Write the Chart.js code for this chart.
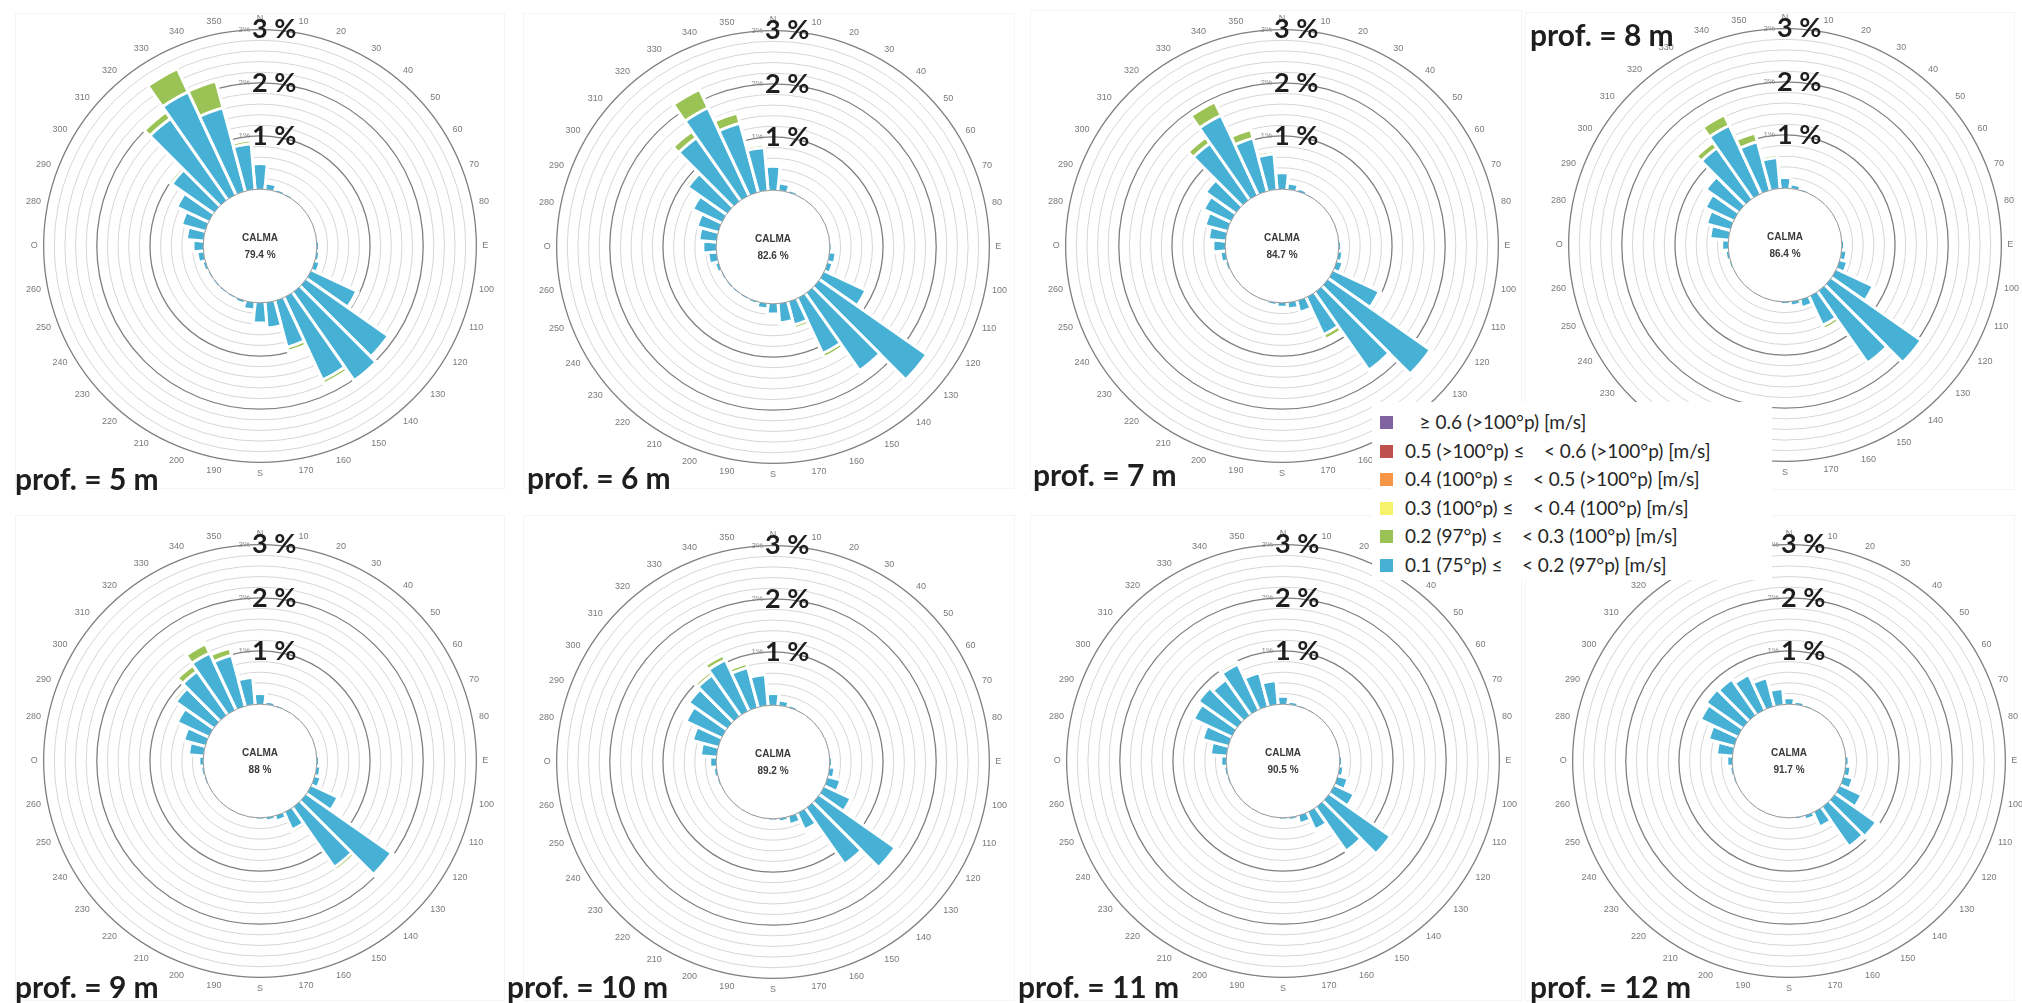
<!DOCTYPE html>
<html>
<head>
<meta charset="utf-8">
<script src="https://cdn.jsdelivr.net/npm/chart.js@4"></script>
<style>
  body { margin:0; background:#fff; width:2022px; height:1003px; overflow:hidden; position:relative; font-family: Lato, sans-serif; }
  .frame { position:absolute; border:1px solid #f5f5f5; box-sizing:border-box; }
  canvas { position:absolute; }
  .prof { position:absolute; font-weight:bold; font-size:30px; font-family:Lato, sans-serif; color:#1e1e1e; white-space:nowrap; line-height:30px; z-index:3; }
  #legend { position:absolute; left:1372px; top:402px; width:400px; height:178px; background:#fff; z-index:5; padding-top:6px; box-sizing:border-box; }
  .lg-row { height:28.6px; line-height:28.6px; position:relative; font-size:19px; font-family:Lato, sans-serif; color:#262626; white-space:pre; }
  .lg-box { position:absolute; left:8px; top:8px; width:13px; height:13px; }
  .lg-text { position:absolute; left:33px; top:0; }
</style>
</head>
<body>
<div id="legend"></div>
<script>
// direction labels, every 10 degrees starting at north
const dirLabels = ['N','10','20','30','40','50','60','70','80','E','100','110','120','130','140','150','160','170',
  'S','190','200','210','220','230','240','250','260','O','280','290','300','310','320','330','340','350'];

const depthNames = ['prof. = 5 m','prof. = 6 m','prof. = 7 m','prof. = 8 m','prof. = 9 m','prof. = 10 m','prof. = 11 m','prof. = 12 m'];
const calmPct = ['79.4','82.6','84.7','86.4','88','89.2','90.5','91.7'];
const ringTicks = [1, 2, 3];

// legend classes (top to bottom)
const classNames = [
  '   \u2265 0.6 (>100\u00b0p) [m/s]',
  '0.5 (>100\u00b0p) \u2264    < 0.6 (>100\u00b0p) [m/s]',
  '0.4 (100\u00b0p) \u2264    < 0.5 (>100\u00b0p) [m/s]',
  '0.3 (100\u00b0p) \u2264    < 0.4 (100\u00b0p) [m/s]',
  '0.2 (97\u00b0p) \u2264    < 0.3 (100\u00b0p) [m/s]',
  '0.1 (75\u00b0p) \u2264    < 0.2 (97\u00b0p) [m/s]'
];
const classColors = ['#8064a2','#c0504d','#f79646','#f6f36a','#9bc254','#47b1d5'];

// frequency (%) per direction, class 0.1-0.2 (blue)
const blue5  = [0.48,0.12,0.05,0.04,0.03,0.03,0.03,0.03,0.03,0.05,0.06,0.10,0.94,1.88,2.02,1.71,0.90,0.48,0.38,0.14,0.06,0.04,0.04,0.04,0.04,0.06,0.12,0.19,0.32,0.46,0.66,0.96,1.86,2.13,1.62,0.86];
const blue6  = [0.45,0.14,0.05,0.03,0.03,0.03,0.03,0.03,0.03,0.04,0.12,0.10,0.86,2.46,1.77,1.14,0.45,0.36,0.19,0.10,0.05,0.04,0.04,0.04,0.04,0.07,0.16,0.25,0.33,0.41,0.60,0.89,1.44,1.82,1.34,0.81];
const blue7  = [0.31,0.12,0.06,0.03,0.03,0.03,0.03,0.03,0.03,0.05,0.08,0.12,0.95,2.34,1.78,0.77,0.22,0.12,0.08,0.05,0.03,0.03,0.03,0.03,0.03,0.05,0.10,0.23,0.32,0.43,0.56,0.69,1.29,1.64,1.03,0.67];
const blue8  = [0.20,0.08,0.04,0.03,0.03,0.03,0.03,0.03,0.03,0.05,0.10,0.15,0.76,2.06,1.64,0.60,0.15,0.08,0.05,0.03,0.03,0.03,0.03,0.03,0.03,0.04,0.06,0.12,0.35,0.46,0.59,0.75,1.16,1.41,0.94,0.58];
const blue9  = [0.20,0.06,0.04,0.03,0.03,0.03,0.03,0.03,0.03,0.05,0.08,0.12,0.55,1.95,1.37,0.36,0.10,0.06,0.04,0.03,0.03,0.03,0.03,0.03,0.03,0.04,0.05,0.08,0.28,0.42,0.65,0.87,0.99,1.17,0.99,0.51];
const blue10 = [0.22,0.10,0.05,0.03,0.03,0.03,0.03,0.03,0.03,0.05,0.10,0.25,0.55,1.74,1.28,0.34,0.15,0.06,0.04,0.03,0.03,0.03,0.03,0.03,0.03,0.04,0.06,0.12,0.30,0.50,0.74,0.87,0.93,1.05,0.77,0.58];
const blue11 = [0.15,0.06,0.04,0.03,0.03,0.03,0.03,0.03,0.03,0.05,0.08,0.20,0.41,1.40,1.00,0.36,0.15,0.05,0.04,0.03,0.03,0.03,0.03,0.03,0.03,0.04,0.05,0.10,0.30,0.50,0.79,0.88,0.80,0.94,0.65,0.45];
const blue12 = [0.12,0.06,0.04,0.03,0.03,0.03,0.03,0.03,0.03,0.06,0.10,0.18,0.44,0.94,0.90,0.30,0.08,0.04,0.03,0.03,0.03,0.03,0.03,0.03,0.03,0.04,0.05,0.10,0.30,0.50,0.77,0.84,0.81,0.72,0.55,0.30];

// class 0.2-0.3 (green)
const green5  = [0.02,0,0,0,0,0,0,0,0,0,0,0,0.03,0.04,0.04,0.08,0.08,0.04,0.02,0,0,0,0,0,0,0,0,0,0.02,0.04,0.05,0.06,0.15,0.48,0.52,0.07];
const green6  = [0.02,0,0,0,0,0,0,0,0,0,0,0,0.03,0.04,0.04,0.08,0.07,0.03,0,0,0,0,0,0,0,0,0,0,0,0.03,0.04,0.06,0.15,0.38,0.20,0.06];
const green7  = [0.02,0,0,0,0,0,0,0,0,0,0,0,0.03,0.04,0.04,0.10,0.03,0,0,0,0,0,0,0,0,0,0,0,0,0,0.04,0.05,0.14,0.28,0.17,0.06];
const green8  = [0,0,0,0,0,0,0,0,0,0,0,0,0.02,0.04,0.05,0.08,0,0,0,0,0,0,0,0,0,0,0,0,0,0.03,0.05,0.04,0.13,0.22,0.17,0.06];
const green9  = [0,0,0,0,0,0,0,0,0,0,0,0,0.03,0.05,0.07,0.06,0,0,0,0,0,0,0,0,0,0,0,0,0,0.03,0.05,0.06,0.14,0.19,0.14,0.05];
const green10 = [0,0,0,0,0,0,0,0,0,0,0,0,0.02,0.04,0.05,0.05,0,0,0,0,0,0,0,0,0,0,0,0,0,0,0.04,0.05,0.07,0.10,0.08,0];
const green11 = [0,0,0,0,0,0,0,0,0,0,0,0,0,0.05,0.05,0.04,0,0,0,0,0,0,0,0,0,0,0,0,0,0,0,0.04,0.05,0.06,0.05,0];
const green12 = [0,0,0,0,0,0,0,0,0,0,0,0,0,0.04,0.04,0,0,0,0,0,0,0,0,0,0,0,0,0,0,0,0.03,0.03,0.03,0,0,0];

// class 0.3-0.4 (yellow)
const yellow5  = [0,0,0,0,0,0,0,0,0,0,0,0,0,0,0,0.03,0.04,0,0,0,0,0,0,0,0,0,0,0,0,0,0,0,0.02,0.04,0.02,0];
const yellow6  = [0,0,0,0,0,0,0,0,0,0,0,0,0,0,0,0.03,0.03,0,0,0,0,0,0,0,0,0,0,0,0,0,0,0,0,0.04,0.03,0];
const yellow7  = [0,0,0,0,0,0,0,0,0,0,0,0,0,0,0,0.04,0,0,0,0,0,0,0,0,0,0,0,0,0,0,0,0,0.02,0.03,0.02,0];
const yellow8  = [0,0,0,0,0,0,0,0,0,0,0,0,0,0,0,0.03,0,0,0,0,0,0,0,0,0,0,0,0,0,0,0,0,0.02,0.03,0.02,0];
const yellow9  = [0,0,0,0,0,0,0,0,0,0,0,0,0,0.02,0.02,0.02,0,0,0,0,0,0,0,0,0,0,0,0,0,0,0,0,0,0.03,0.02,0];
const yellow10 = [0,0,0,0,0,0,0,0,0,0,0,0,0,0.02,0.02,0,0,0,0,0,0,0,0,0,0,0,0,0,0,0,0,0,0,0.02,0,0];
const yellow11 = [0,0,0,0,0,0,0,0,0,0,0,0,0,0.02,0.02,0,0,0,0,0,0,0,0,0,0,0,0,0,0,0,0,0,0,0,0,0];
const yellow12 = [0,0,0,0,0,0,0,0,0,0,0,0,0,0.02,0.01,0,0,0,0,0,0,0,0,0,0,0,0,0,0,0,0,0,0,0,0,0];

const blues = [blue5, blue6, blue7, blue8, blue9, blue10, blue11, blue12];
const greens = [green5, green6, green7, green8, green9, green10, green11, green12];
const yellows = [yellow5, yellow6, yellow7, yellow8, yellow9, yellow10, yellow11, yellow12];

// layout: rose centres and label positions (px)
const centers = [[260,247],[773,248],[1282,247],[1785,246],[260,762],[773,763],[1283,762],[1789,762]];
const profPos = [[15,488],[527,487],[1033,484],[1530,44],[15,996],[507,996],[1018,996],[1530,996]];
const frames = [[15,13,490,476],[523,13,492,476],[1030,10,492,479],[1525,12,490,478],[15,515,490,486],[523,515,492,486],[1030,515,492,486],[1525,515,490,486]];
const SIZE = 468;

// legend
var lg = document.getElementById('legend');
classNames.forEach(function (name, i) {
  var row = document.createElement('div');
  row.className = 'lg-row';
  row.innerHTML = '<span class="lg-box" style="background:' + classColors[i] + '"></span><span class="lg-text"></span>';
  row.querySelector('.lg-text').textContent = name;
  lg.appendChild(row);
});

const rosaPlugin = {
  id: 'rosa',
  afterDatasetsDraw(chart, args, opts) {
    const s = chart.scales.r;
    const ctx = chart.ctx;
    const cx = s.xCenter, cy = s.yCenter;
    const r0 = s.getDistanceFromCenterForValue(0);
    ctx.save();
    ctx.beginPath();
    ctx.arc(cx, cy, r0, 0, Math.PI * 2);
    ctx.fillStyle = '#ffffff';
    ctx.fill();
    ctx.strokeStyle = '#9a9a9a';
    ctx.lineWidth = 1;
    ctx.stroke();
    ctx.fillStyle = '#3a3a3a';
    ctx.textAlign = 'center';
    ctx.textBaseline = 'middle';
    ctx.font = 'bold 10px "Liberation Sans"';
    ctx.fillText('CALMA', cx, cy - 8);
    ctx.fillText(opts.calm + ' %', cx, cy + 9);
    ringTicks.forEach(function (v) {
      const y = cy - s.getDistanceFromCenterForValue(v);
      ctx.font = '8px "Liberation Sans"';
      ctx.fillStyle = '#8c8c8c';
      ctx.textAlign = 'right';
      ctx.fillText(v + '%', cx - 10, y);
      ctx.font = 'bold 27px Lato';
      ctx.fillStyle = '#1e1e1e';
      ctx.textAlign = 'left';
      ctx.fillText(v + ' %', cx - 8, y);
    });
    ctx.restore();
  }
};

function isMajor(v) { return Math.abs(v - Math.round(v)) < 1e-6; }

depthNames.forEach(function (name, k) {
  const f = frames[k];
  const fr = document.createElement('div');
  fr.className = 'frame';
  fr.style.left = f[0] + 'px'; fr.style.top = f[1] + 'px';
  fr.style.width = f[2] + 'px'; fr.style.height = f[3] + 'px';
  document.body.appendChild(fr);

  const cv = document.createElement('canvas');
  cv.width = SIZE; cv.height = SIZE;
  cv.style.left = (centers[k][0] - SIZE / 2) + 'px';
  cv.style.top = (centers[k][1] - SIZE / 2) + 'px';
  document.body.appendChild(cv);

  const p = document.createElement('div');
  p.className = 'prof';
  p.textContent = name;
  p.style.left = profPos[k][0] + 'px';
  p.style.top = (profPos[k][1] - 25) + 'px';
  document.body.appendChild(p);

  // stacked totals: blue, blue+green, blue+green+yellow
  const b = blues[k], g = greens[k], y = yellows[k];
  const s1 = b.map(function (v) { return v; });
  const s2 = b.map(function (v, i) { return v + g[i]; });
  const s3 = b.map(function (v, i) { return v + g[i] + y[i]; });

  new Chart(cv, {
    type: 'polarArea',
    data: {
      labels: dirLabels,
      datasets: [
        { data: s1, backgroundColor: classColors[5], borderColor: '#ffffff', borderWidth: 3 },
        { data: s2, backgroundColor: classColors[4], borderColor: '#ffffff', borderWidth: 3 },
        { data: s3, backgroundColor: classColors[3], borderColor: '#ffffff', borderWidth: 3 }
      ]
    },
    options: {
      responsive: false,
      animation: false,
      layout: { padding: 0 },
      plugins: {
        legend: { display: false },
        tooltip: { enabled: false },
        rosa: { calm: calmPct[k] }
      },
      scales: {
        r: {
          min: -1.07,
          max: 3,
          startAngle: -5,
          ticks: { display: false, stepSize: 0.2 },
          angleLines: { display: false },
          grid: {
            circular: true,
            color: function (c) {
              const v = c.tick ? c.tick.value : 0;
              if (v < -0.01) return 'rgba(0,0,0,0)';
              return isMajor(v) ? '#7f7f7f' : '#d6d6d6';
            },
            lineWidth: function (c) {
              const v = c.tick ? c.tick.value : 0;
              return isMajor(v) ? 1.3 : 1;
            }
          },
          pointLabels: {
            display: true,
            centerPointLabels: true,
            padding: 6,
            color: '#7a7a7a',
            font: { size: 9, family: 'Liberation Sans' }
          }
        }
      }
    },
    plugins: [rosaPlugin]
  });
});
</script>
</body>
</html>
